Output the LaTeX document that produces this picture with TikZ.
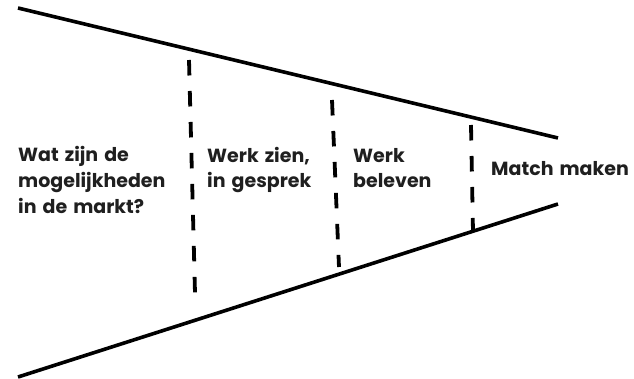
\documentclass[tikz,border=0pt]{standalone}
\usepackage{fontspec}
\setmainfont{Poppins}[WordSpace=1.5]
\begin{document}
\begin{tikzpicture}[x=1pt,y=1pt,
  edge/.style={line width=3.6pt,black},
  divider/.style={line width=3.8pt,black,dash pattern=on 15.5pt off 15.5pt},
  label/.style={anchor=base west,inner sep=0pt,align=left,text=black!88,
    font=\fontsize{19}{25.5}\selectfont\bfseries}]
\useasboundingbox (0,0) rectangle (634,378);
% funnel edges
\coordinate (tl) at (18,370);
\coordinate (tr) at (558,240);
\coordinate (bl) at (18,1);
\coordinate (br) at (558,174);
\draw[edge] (tl) -- (tr);
\draw[edge] (bl) -- (br);
% dividers
\coordinate (d1t) at (189,318);
\coordinate (d1b) at (195,85);
\coordinate (d2t) at (332,278);
\coordinate (d2b) at (339,111);
\coordinate (d3t) at (471,253);
\coordinate (d3b) at (473,146);
\draw[divider] (d1t) -- (d1b);
\draw[divider] (d2t) -- (d2b);
\draw[divider] (d3t) -- (d3b);
% labels
\node[label] (l1) at (18,165) {Wat zijn de\\mogelijkheden\\in de markt?};
\node[label] (l2) at (207,190) {Werk zien,\\in gesprek};
\node[label] (l3) at (353,190) {Werk\\beleven};
\node[label] (l4) at (491,203) {Match maken};
\end{tikzpicture}
\end{document}
